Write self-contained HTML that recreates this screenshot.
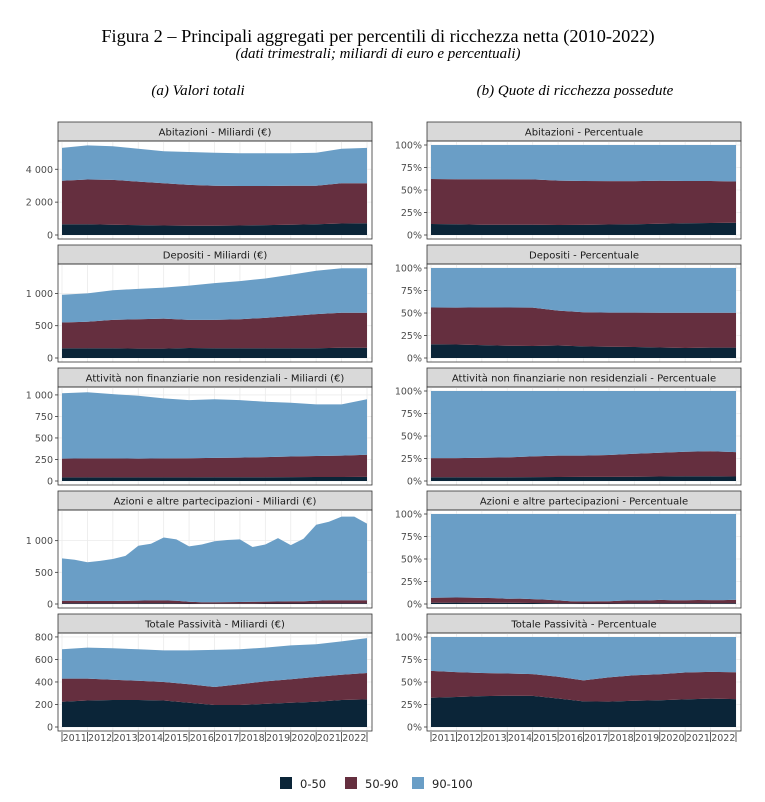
<!DOCTYPE html>
<html><head><meta charset="utf-8"><style>
body{margin:0;background:#fff}
svg{display:block}
text{font-family:"DejaVu Sans","Liberation Sans",sans-serif}
.serif{font-family:"Liberation Serif",serif}
</style></head><body>
<svg id="chart" width="765" height="802" viewBox="0 0 765 802">
<text class="serif" x="378" y="42" text-anchor="middle" font-size="18.3" fill="#000">Figura 2 – Principali aggregati per percentili di ricchezza netta (2010-2022)</text>
<text class="serif" x="378" y="58" text-anchor="middle" font-size="15" font-style="italic" fill="#000">(dati trimestrali; miliardi di euro e percentuali)</text>
<text class="serif" x="198" y="95" text-anchor="middle" font-size="15" font-style="italic">(a) Valori totali</text>
<text class="serif" x="575" y="95" text-anchor="middle" font-size="15" font-style="italic">(b) Quote di ricchezza possedute</text>
<g id="legend">
<rect x="280" y="777" width="12" height="12" fill="#0b2538"/>
<text x="300" y="788" font-size="11.5" fill="#222">0-50</text>
<rect x="345" y="777" width="12" height="12" fill="#652f3f"/>
<text x="365" y="788" font-size="11.5" fill="#222">50-90</text>
<rect x="412" y="777" width="12" height="12" fill="#6a9ec6"/>
<text x="432" y="788" font-size="11.5" fill="#222">90-100</text>
</g>
</svg>
<script>
const years = [2011,2012,2013,2014,2015,2016,2017,2018,2019,2020,2021,2022,2023];
const azYears = [2011,2011.5,2012,2012.5,2013,2013.5,2014,2014.5,2015,2015.5,2016,2016.5,2017,2017.5,2018,2018.5,2019,2019.5,2020,2020.5,2021,2021.5,2022,2022.5,2023];
const yearLabels = ["2011","2012","2013","2014","2015","2016","2017","2018","2019","2020","2021","2022"];
const groups = ["0-50","50-90","90-100"];
// Abitazioni
const abG0 = [650,650,620,600,580,560,560,580,600,620,650,700,720];
const abG1 = [2650,2730,2730,2650,2570,2490,2440,2400,2380,2380,2350,2450,2430];
const abG2 = [2000,2070,2050,2000,1950,2000,2000,2000,2000,1980,2000,2100,2150];
const abTicks = [0,2000,4000];
// Depositi
const deG0 = [150,150,150,145,145,155,150,150,150,150,150,160,160];
const deG1 = [400,410,440,455,465,435,440,450,470,500,530,540,540];
const deG2 = [430,440,460,470,480,530,570,590,610,640,670,690,690];
const deTicks = [0,500,1000];
// Attività non finanziarie
const atG0 = [42,42,42,42,42,42,43,43,44,45,46,47,48];
const atG1 = [218,220,220,218,220,223,225,229,234,240,244,248,257];
const atG2 = [760,768,748,730,698,675,682,668,642,625,600,595,645];
const atTicks = [0,250,500,750,1000];
// Azioni e altre partecipazioni
const azG0 = [10,10,10,10,10,10,12,12,12,10,8,6,6,6,6,6,8,8,8,8,10,10,10,10,10];
const azG1 = [40,40,38,38,38,40,42,45,45,40,28,22,22,24,26,28,30,32,34,36,42,48,50,50,50];
const azG2 = [670,650,612,632,662,710,866,893,993,970,874,912,962,980,988,866,902,1000,888,986,1198,1242,1320,1320,1210];
const azTicks = [0,500,1000];
// Totale Passività
const paG0 = [225,235,240,240,235,215,195,195,205,215,225,240,245];
const paG1 = [205,195,180,170,165,165,160,185,200,210,220,225,235];
const paG2 = [260,275,280,280,280,300,330,310,300,300,290,295,310];
const paTicks = [0,200,400,600,800];
const pctTicks = [0,0.25,0.5,0.75,1];

const colors = ["#0b2538","#652f3f","#6a9ec6"];
const NS = "http://www.w3.org/2000/svg";
const svg = document.getElementById("chart");
function mk(tag, attrs, parent){const e=document.createElementNS(NS,tag);for(const k in attrs)e.setAttribute(k,attrs[k]);(parent||svg).appendChild(e);return e;}
function fmt(v){return v>=1000? String(v).replace(/(\d)(\d{3})$/,"$1 $2"):String(v);}

const panels = [
 {title:"Abitazioni", xs:years, g:[abG0,abG1,abG2], ticks:abTicks, ymax:5720, top:122, slug:"abitazioni"},
 {title:"Depositi", xs:years, g:[deG0,deG1,deG2], ticks:deTicks, ymax:1455, top:245, slug:"depositi"},
 {title:"Attività non finanziarie non residenziali", xs:years, g:[atG0,atG1,atG2], ticks:atTicks, ymax:1092, top:368, slug:"attivita"},
 {title:"Azioni e altre partecipazioni", xs:azYears, g:[azG0,azG1,azG2], ticks:azTicks, ymax:1484, top:491, slug:"azioni"},
 {title:"Totale Passività", xs:years, g:[paG0,paG1,paG2], ticks:paTicks, ymax:835, top:614, slug:"passivita"}
];

function drawPanel(p, left, pct){
  const L=left, R=left+314, stripH=19, T=p.top+stripH, B=p.top+stripH+98;
  const dL=L+4, dR=R-5;
  const x = v => dL + (v-2011)/12*(dR-dL);
  let y;
  const y0=B-4;
  if(pct){ y = v => y0 - v*(y0-(T+4))/1; }
  else { y = v => y0 - v/p.ymax*(y0-T); }
  const g = mk("g",{});
  
  
  const s = mk("rect",{x:L,y:p.top,width:R-L,height:stripH,fill:"#d9d9d9",stroke:"#333","stroke-width":0.8},g);
  
  
  const st = mk("text",{x:(L+R)/2,y:p.top+13.5,"text-anchor":"middle","font-size":10,fill:"#1a1a1a"},g);
  st.textContent = p.title + (pct?" - Percentuale":" - Miliardi (€)");
  
  
  for(let i=0;i<=12;i++){
    const gl = mk("line",{x1:x(2011+i),x2:x(2011+i),y1:T,y2:B,stroke:"#ebebeb","stroke-width":0.8},g);
    
    
  }
  const ticks = pct?pctTicks:p.ticks;
  ticks.forEach(t=>{
    const gl = mk("line",{x1:L,x2:R,y1:y(t),y2:y(t),stroke:"#ebebeb","stroke-width":0.8},g);
    
    
  });
  const xs=p.xs, n=xs.length;
  const tot = xs.map((_,i)=>p.g[0][i]+p.g[1][i]+p.g[2][i]);
  let lower = xs.map(()=>0);
  for(let k=0;k<3;k++){
    const upper = xs.map((_,i)=>lower[i]+(pct? p.g[k][i]/tot[i] : p.g[k][i]));
    let d="M"+xs.map((v,i)=>x(v).toFixed(1)+","+y(upper[i]).toFixed(1)).join("L");
    for(let i=n-1;i>=0;i--) d+="L"+x(xs[i]).toFixed(1)+","+y(lower[i]).toFixed(1);
    d+="Z";
    const a = mk("path",{d:d,fill:colors[k]},g);
    
    
    lower = upper;
  }
  const b = mk("rect",{x:L,y:T,width:R-L,height:B-T,fill:"none",stroke:"#333","stroke-width":0.8},g);
  
  
  ticks.forEach(t=>{
    mk("line",{x1:L-3,x2:L,y1:y(t),y2:y(t),stroke:"#333","stroke-width":0.8},g);
    const tl = mk("text",{x:L-5,y:y(t)+3.5,"text-anchor":"end","font-size":9.5,fill:"#4d4d4d"},g);
    tl.textContent = pct? Math.round(t*100)+"%" : fmt(t);
    
    
  });
  if(p.slug==="passivita"){
    for(let i=0;i<=12;i++){
      mk("line",{x1:x(2011+i),x2:x(2011+i),y1:B+1,y2:B+11,stroke:"#333","stroke-width":0.8},g);
    }
    yearLabels.forEach((lab,i)=>{
      const xl = mk("text",{x:(x(2011+i)+x(2012+i))/2,y:B+10,"text-anchor":"middle","font-size":9.5,fill:"#4d4d4d"},g);
      xl.textContent = lab;
      
      
    });
  }
}
panels.forEach(p=>{drawPanel(p,58,false);drawPanel(p,427,true);});
</script>
</body></html>
